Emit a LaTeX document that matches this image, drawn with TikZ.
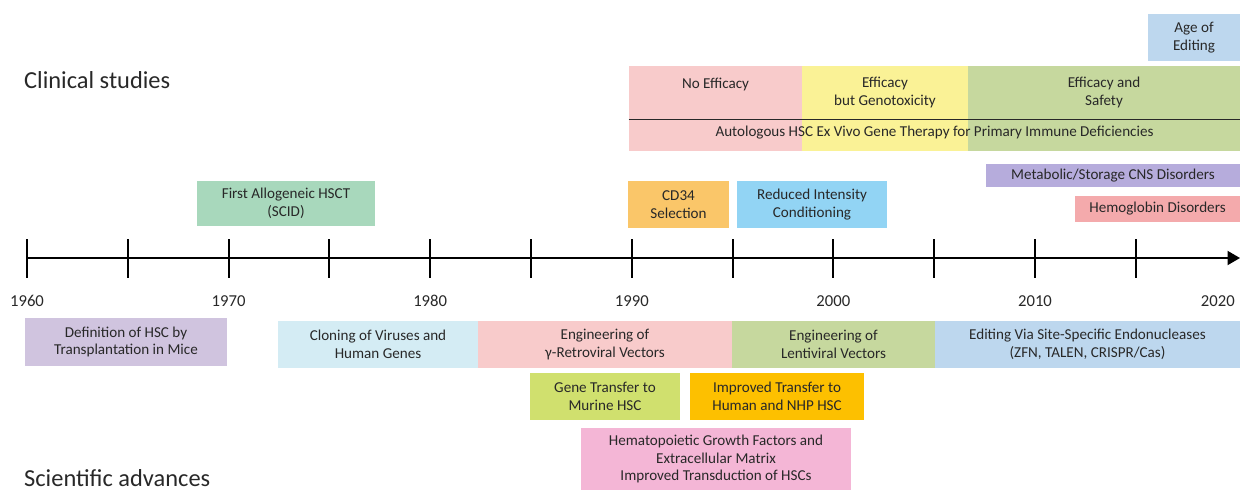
\documentclass[tikz,border=0pt]{standalone}
\usepackage{fontspec}
\setmainfont{Carlito}
\usetikzlibrary{arrows.meta,calc}
\definecolor{ink}{RGB}{40,40,40}
\definecolor{cNoEff}{RGB}{248,203,203}
\definecolor{cGeno}{RGB}{250,242,150}
\definecolor{cSafe}{RGB}{198,216,158}
\definecolor{cEdit}{RGB}{189,215,238}
\definecolor{cMetab}{RGB}{182,172,220}
\definecolor{cHemo}{RGB}{244,170,172}
\definecolor{cHsct}{RGB}{168,216,188}
\definecolor{cCD}{RGB}{250,198,105}
\definecolor{cRic}{RGB}{146,212,244}
\definecolor{cDef}{RGB}{208,196,223}
\definecolor{cClone}{RGB}{212,236,244}
\definecolor{cMurine}{RGB}{208,224,110}
\definecolor{cNhp}{RGB}{253,192,0}
\definecolor{cGrowth}{RGB}{244,182,214}
\tikzset{
  bar/.style={fill=#1,inner sep=0pt,align=center,text=ink,
    font=\fontsize{8.6}{10.2}\selectfont},
  yr/.style={text=ink,font=\fontsize{9.5}{11}\selectfont},
  head/.style={anchor=west,text=ink,font=\fontsize{13.9}{16}\selectfont},
  axis/.style={line width=1.1pt,draw=black},
}

\begin{document}
\begin{tikzpicture}[x=0.02cm,y=-0.02cm]
  \useasboundingbox (0,0) rectangle (1240,490);
  % headings
  \node[head] (clin) at (18,80) {Clinical studies};
  \node[head] (sci)  at (18,478) {Scientific advances};

  % clinical phases
  \node[bar=cEdit,minimum width=1.84cm,minimum height=0.94cm] (age) at (1194,37.5)
     {Age of\\Editing};
  \node[bar=cNoEff,minimum width=3.46cm,minimum height=1.06cm] (noeff) at (715.5,92.5)
     {No Efficacy\\\mbox{}};
  \node[bar=cGeno,minimum width=3.32cm,minimum height=1.06cm] (geno) at (885,92.5)
     {Efficacy\\but Genotoxicity};
  \node[bar=cSafe,minimum width=5.44cm,minimum height=1.06cm] (safe) at (1104,92.5)
     {Efficacy and\\Safety};
  \node[bar=cNoEff,minimum width=3.46cm,minimum height=0.64cm] (noeffB) at (715.5,135) {};
  \node[bar=cGeno,minimum width=3.32cm,minimum height=0.64cm] (genoB) at (885,135) {};
  \node[bar=cSafe,minimum width=5.44cm,minimum height=0.64cm] (safeB) at (1104,135) {};
  \draw[line width=0.9pt,ink] (noeff.south west) -- (safe.south east);
  \node[bar=none,fill=none] (pid) at ($(noeffB.west)!.5!(safeB.east)+(0,-2)$)
     {Autologous HSC Ex Vivo Gene Therapy for Primary Immune Deficiencies};

  \node[bar=cMetab,minimum width=5.08cm,minimum height=0.46cm] (metab) at (1113,175.5)
     {Metabolic/Storage CNS Disorders};
  \node[bar=cHemo,minimum width=3.30cm,minimum height=0.52cm] (hemo) at (1157.5,209)
     {Hemoglobin Disorders};
  \node[bar=cHsct,minimum width=3.56cm,minimum height=0.90cm] (hsct) at (286,203.5)
     {First Allogeneic HSCT\\(SCID)};
  \node[bar=cCD,minimum width=2.02cm,minimum height=0.94cm] (cd34) at (678.5,204.5)
     {CD34\\Selection};
  \node[bar=cRic,minimum width=3.00cm,minimum height=0.94cm] (ric) at (812,204.5)
     {Reduced Intensity\\Conditioning};

  % time axis
  \coordinate (t0) at (27,258);
  \coordinate (tend) at (1240,258);
  \draw[axis,-{Triangle[length=2.5mm,width=2.8mm]}] (t0) -- (tend);
  \foreach \i in {0,...,11}{
    \coordinate (tk\i) at ($(t0)+(\i*100.8,0)$);
    \draw[axis] ($(tk\i)+(0,-19)$) -- ($(tk\i)+(0,20)$);
  }
  \foreach \i/\y in {0/1960,2/1970,4/1980,6/1990,8/2000,10/2010}
    \node[yr] (y\y) at ($(tk\i)+(0,43)$) {\y};
  \node[yr,anchor=east] (y2020) at (1241,301) {2020};

  % scientific advances
  \node[bar=cDef,minimum width=4.04cm,minimum height=0.96cm] (defhsc) at (126,342)
     {Definition of HSC by\\Transplantation in Mice};
  \node[bar=cClone,minimum width=4.00cm,minimum height=0.94cm] (clone) at (378,344.5)
     {Cloning of Viruses and\\Human Genes};
  \node[bar=cNoEff,minimum width=5.08cm,minimum height=0.94cm] (retro) at (605,344.5)
     {Engineering of\\γ-Retroviral Vectors};
  \node[bar=cSafe,minimum width=4.06cm,minimum height=0.94cm] (lenti) at (833.5,344.5)
     {Engineering of\\Lentiviral Vectors};
  \node[bar=cEdit,minimum width=6.10cm,minimum height=0.94cm] (edit) at (1087.5,344.5)
     {Editing Via Site-Specific Endonucleases\\(ZFN, TALEN, CRISPR/Cas)};
  \node[bar=cMurine,minimum width=3.00cm,minimum height=0.94cm] (murine) at (605,396.5)
     {Gene Transfer to\\Murine HSC};
  \node[bar=cNhp,minimum width=3.48cm,minimum height=0.94cm] (nhp) at (777,396.5)
     {Improved Transfer to\\Human and NHP HSC};
  \node[bar=cGrowth,minimum width=5.40cm,minimum height=1.24cm] (growth) at (716,459)
     {Hematopoietic Growth Factors and\\Extracellular Matrix\\Improved Transduction of HSCs};
\end{tikzpicture}
\end{document}
